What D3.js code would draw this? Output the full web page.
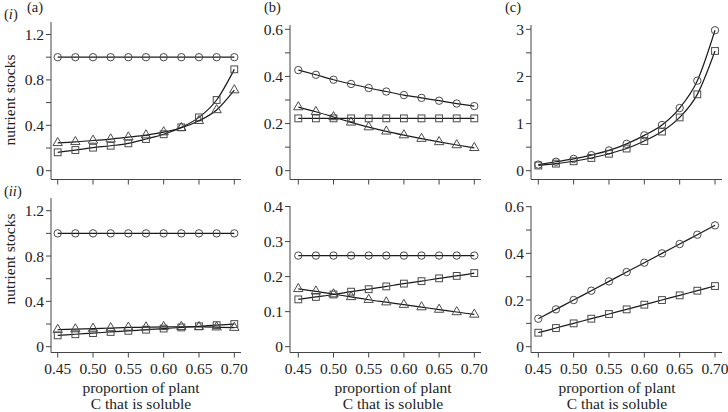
<!DOCTYPE html>
<html>
<head>
<meta charset="utf-8">
<script src="https://cdn.jsdelivr.net/npm/d3@7"></script>
<style>
  html, body { margin: 0; padding: 0; background: #fff; }
  svg { display: block; }
  text { font-family: "Liberation Serif", "Times New Roman", serif; fill: #222; }
</style>
</head>
<body>
<svg id="chart" width="728" height="412"></svg>
<script>
// soluble fraction of plant C (x values, shared by all panels)
const solubleC = [0.45, 0.475, 0.50, 0.525, 0.55, 0.575, 0.60, 0.625, 0.65, 0.675, 0.70];
const xTickVals = [0.45, 0.50, 0.55, 0.60, 0.65, 0.70];

// row (i)
const aTopCircle   = [1, 1, 1, 1, 1, 1, 1, 1, 1, 1, 1];
const aTopSquare   = [0.162, 0.182, 0.203, 0.22, 0.241, 0.279, 0.321, 0.382, 0.47, 0.623, 0.893];
const aTopTriangle = [0.245, 0.254, 0.266, 0.278, 0.295, 0.313, 0.34, 0.378, 0.44, 0.535, 0.71];

const bTopCircle   = [0.427, 0.407, 0.386, 0.368, 0.351, 0.336, 0.321, 0.309, 0.297, 0.285, 0.274];
const bTopSquare   = [0.222, 0.222, 0.222, 0.222, 0.222, 0.222, 0.222, 0.222, 0.222, 0.222, 0.222];
const bTopTriangle = [0.27, 0.25, 0.228, 0.205, 0.185, 0.167, 0.151, 0.136, 0.122, 0.109, 0.097];

const cTopCircle   = [0.13, 0.19, 0.25, 0.33, 0.43, 0.57, 0.75, 0.97, 1.33, 1.91, 2.98];
const cTopSquare   = [0.11, 0.15, 0.2, 0.27, 0.36, 0.47, 0.63, 0.83, 1.13, 1.62, 2.54];

// row (ii)
const aBotCircle   = [1, 1, 1, 1, 1, 1, 1, 1, 1, 1, 1];
const aBotSquare   = [0.10, 0.11, 0.12, 0.13, 0.14, 0.15, 0.16, 0.17, 0.18, 0.19, 0.20];
const aBotTriangle = [0.15, 0.155, 0.16, 0.165, 0.17, 0.172, 0.175, 0.176, 0.175, 0.172, 0.168];

const bBotCircle   = [0.26, 0.26, 0.26, 0.26, 0.26, 0.26, 0.26, 0.26, 0.26, 0.26, 0.26];
const bBotSquare   = [0.135, 0.142, 0.149, 0.157, 0.164, 0.172, 0.18, 0.187, 0.195, 0.202, 0.21];
const bBotTriangle = [0.165, 0.158, 0.15, 0.142, 0.134, 0.127, 0.12, 0.113, 0.106, 0.099, 0.092];

const cBotCircle   = [0.12, 0.16, 0.2, 0.24, 0.28, 0.32, 0.36, 0.40, 0.44, 0.48, 0.52];
const cBotSquare   = [0.06, 0.08, 0.10, 0.12, 0.14, 0.16, 0.18, 0.20, 0.22, 0.24, 0.26];

// y ticks per panel
const aTicks = [0, 0.4, 0.8, 1.2],   aMinor = [0.2, 0.6, 1.0];
const bTopTicks = [0, 0.2, 0.4, 0.6], bTopMinor = [0.1, 0.3, 0.5];
const cTopTicks = [0, 1, 2, 3],       cTopMinor = [0.5, 1.5, 2.5];
const bBotTicks = [0, 0.1, 0.2, 0.3, 0.4], bBotMinor = [];
const cBotTicks = [0, 0.2, 0.4, 0.6], cBotMinor = [0.1, 0.3, 0.5];

const svg = d3.select('#chart');
svg.append('rect').attr('width', 728).attr('height', 412).attr('fill', '#fff');

const lineCol = '#1a1a1a';
const markCol = '#4a4a4a';
const axisCol = '#444';
const fs = 15.5;

// layout of each panel (pixel geometry only)
const panels = [
  { col: 0, row: 0, left: 51,  x0: 57.7,  x1: 234.3, right: 241, top: 22,  zero: 170.7, bottom: 179.5,
    yMax: 1.2, yMaxPx: 34.5, ticks: aTicks, minor: aMinor,
    series: [[aTopCircle, 'circle'], [aTopSquare, 'square'], [aTopTriangle, 'triangle']] },
  { col: 1, row: 0, left: 290, x0: 298.3, x1: 474.3, right: 481, top: 25,  zero: 170.7, bottom: 179.5,
    yMax: 0.6, yMaxPx: 29.3, ticks: bTopTicks, minor: bTopMinor,
    series: [[bTopCircle, 'circle'], [bTopSquare, 'square'], [bTopTriangle, 'triangle']] },
  { col: 2, row: 0, left: 531, x0: 538.3, x1: 715,   right: 722, top: 25,  zero: 170.7, bottom: 179.5,
    yMax: 3, yMaxPx: 29.3, ticks: cTopTicks, minor: cTopMinor,
    series: [[cTopCircle, 'circle'], [cTopSquare, 'square']] },
  { col: 0, row: 1, left: 51,  x0: 57.7,  x1: 234.3, right: 241, top: 198, zero: 346.7, bottom: 352.5,
    yMax: 1.2, yMaxPx: 210.7, ticks: aTicks, minor: aMinor,
    series: [[aBotCircle, 'circle'], [aBotSquare, 'square'], [aBotTriangle, 'triangle']] },
  { col: 1, row: 1, left: 290, x0: 298.3, x1: 474.3, right: 481, top: 206, zero: 346.7, bottom: 352.5,
    yMax: 0.4, yMaxPx: 206.5, ticks: bBotTicks, minor: bBotMinor,
    series: [[bBotCircle, 'circle'], [bBotSquare, 'square'], [bBotTriangle, 'triangle']] },
  { col: 2, row: 1, left: 531, x0: 538.3, x1: 715,   right: 722, top: 206, zero: 346.7, bottom: 352.5,
    yMax: 0.6, yMaxPx: 206.7, ticks: cBotTicks, minor: cBotMinor,
    series: [[cBotCircle, 'circle'], [cBotSquare, 'square']] }
];

const tri = d3.symbol().type(d3.symbolTriangle).size(38);

panels.forEach(p => {
  const x = d3.scaleLinear().domain([0.45, 0.70]).range([p.x0, p.x1]);
  const y = d3.scaleLinear().domain([0, p.yMax]).range([p.zero, p.yMaxPx]);
  const g = svg.append('g');

  // L-shaped frame
  g.append('path')
    .attr('d', `M${p.left},${p.top}V${p.bottom}H${p.right}`)
    .attr('fill', 'none').attr('stroke', axisCol).attr('stroke-width', 1);

  // y ticks
  const allY = p.ticks.concat(p.minor);
  g.selectAll('.ytick').data(allY).enter().append('line')
    .attr('x1', p.left - 5).attr('x2', p.left)
    .attr('y1', d => y(d)).attr('y2', d => y(d))
    .attr('stroke', axisCol).attr('stroke-width', 1);
  g.selectAll('.ylab').data(p.ticks).enter().append('text')
    .attr('x', p.left - 7).attr('y', d => y(d))
    .attr('text-anchor', 'end').attr('dominant-baseline', 'central')
    .attr('font-size', fs)
    .text(d => d === 0 ? '0' : d3.format('')(d));

  // x ticks
  g.selectAll('.xtick').data(xTickVals).enter().append('line')
    .attr('x1', d => x(d)).attr('x2', d => x(d))
    .attr('y1', p.bottom).attr('y2', p.bottom + 5)
    .attr('stroke', axisCol).attr('stroke-width', 1);
  if (p.row === 1) {
    g.selectAll('.xlab').data(xTickVals).enter().append('text')
      .attr('x', d => x(d)).attr('y', 373.5)
      .attr('text-anchor', 'middle')
      .attr('font-size', fs)
      .text(d => d3.format('.2f')(d));
  }

  const line = d3.line()
    .x((d, i) => x(solubleC[i]))
    .y(d => y(d))
    .curve(d3.curveMonotoneX);

  p.series.forEach(([vals, shape]) => {
    g.append('path').datum(vals)
      .attr('d', line)
      .attr('fill', 'none').attr('stroke', lineCol).attr('stroke-width', 1.2);

    const m = g.append('g');
    if (shape === 'circle') {
      m.selectAll('circle').data(vals).enter().append('circle')
        .attr('cx', (d, i) => x(solubleC[i])).attr('cy', d => y(d)).attr('r', 3.7)
        .attr('fill', 'none').attr('stroke', markCol).attr('stroke-width', 1);
    } else if (shape === 'square') {
      m.selectAll('rect').data(vals).enter().append('rect')
        .attr('x', (d, i) => x(solubleC[i]) - 3.4).attr('y', d => y(d) - 3.4)
        .attr('width', 6.8).attr('height', 6.8)
        .attr('fill', 'none').attr('stroke', markCol).attr('stroke-width', 1);
    } else {
      m.selectAll('path').data(vals).enter().append('path')
        .attr('d', tri)
        .attr('transform', (d, i) => `translate(${x(solubleC[i])},${y(d)})`)
        .attr('fill', 'none').attr('stroke', markCol).attr('stroke-width', 1);
    }
  });
});

// y axis titles
[[10, 100], [10, 259]].forEach(([cx, cy]) => {
  svg.append('text')
    .attr('transform', `translate(${cx + 5},${cy}) rotate(-90)`)
    .attr('text-anchor', 'middle')
    .attr('font-size', fs)
    .text('nutrient stocks');
});

// x axis titles
[141, 393, 617].forEach(cx => {
  svg.append('text').attr('x', cx).attr('y', 392.5)
    .attr('text-anchor', 'middle').attr('font-size', fs)
    .text('proportion of plant');
  svg.append('text').attr('x', cx).attr('y', 409)
    .attr('text-anchor', 'middle').attr('font-size', fs)
    .text('C that is soluble');
});

// panel letters and row labels
[['(a)', 27], ['(b)', 264], ['(c)', 505]].forEach(([t, px]) => {
  svg.append('text').attr('x', px).attr('y', 12).attr('font-size', 14.5).text(t);
});
const rowLab = [['i', 19], ['ii', 196]];
rowLab.forEach(([t, py]) => {
  const tx = svg.append('text').attr('x', 4).attr('y', py).attr('font-size', 14.5);
  tx.append('tspan').text('(');
  tx.append('tspan').attr('font-style', 'italic').text(t);
  tx.append('tspan').text(')');
});
</script>
</body>
</html>
